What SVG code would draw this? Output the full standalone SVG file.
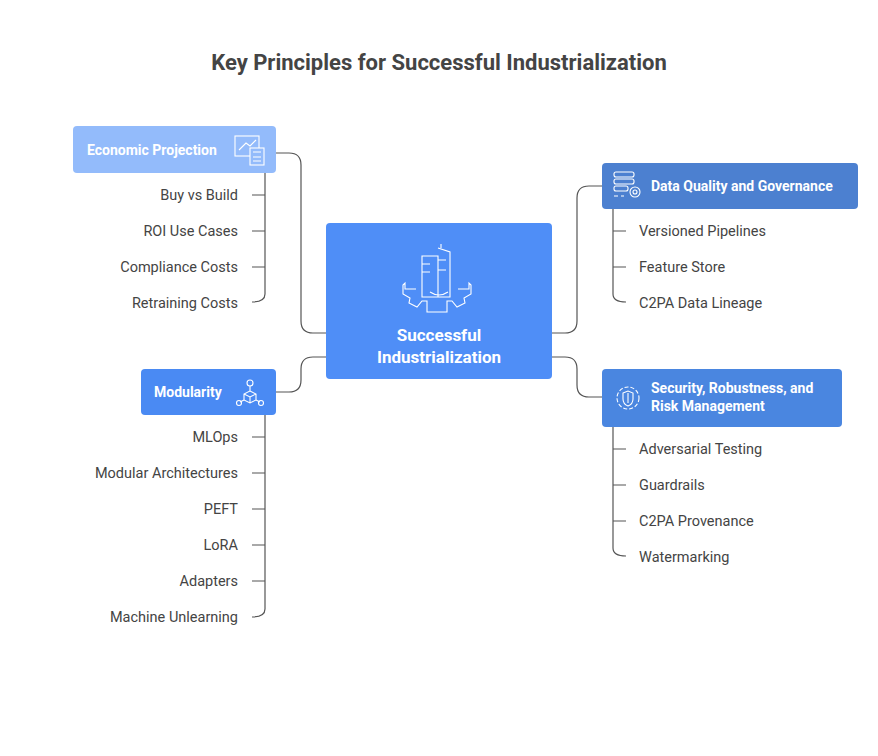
<svg xmlns="http://www.w3.org/2000/svg" width="878" height="756" viewBox="0 0 878 756">
<style>
.t{font-family:Roboto,"Liberation Sans",sans-serif;font-size:14.5px;fill:#444}
.h{font-family:Roboto,"Liberation Sans",sans-serif;font-size:14px;font-weight:bold;fill:#fff}
.c{fill:none;stroke:#555;stroke-width:1.2}
.i{fill:none;stroke:#fff;stroke-width:1.1}
</style>
<rect width="878" height="756" fill="#fff"/>
<text x="439" y="70" text-anchor="middle" style="font-family:Roboto,'Liberation Sans',sans-serif;font-size:22px;font-weight:bold;fill:#444">Key Principles for Successful Industrialization</text>
<g id="connectors">
<path class="c" d="M326 333H313Q301 333 301 321V165Q301 153 289 153H276"/>
<path class="c" d="M326 357H313Q301 357 301 369V380Q301 392 289 392H276"/>
<path class="c" d="M552 333H565Q577 333 577 321V198Q577 186 589 186H602"/>
<path class="c" d="M552 357H565Q577 357 577 369V385Q577 397 589 397H602"/>
<path class="c" d="M265 173V294Q265 302 252 302M252 195H265M252 231H265M252 267H265"/>
<path class="c" d="M265 415V609Q265 617 252 617M252 437H265M252 473H265M252 509H265M252 545H265M252 581H265"/>
<path class="c" d="M613 209V294Q613 302 626 302M613 231H626M613 267H626"/>
<path class="c" d="M613 427V548Q613 556 626 556M613 449H626M613 485H626M613 521H626"/>
</g>
<g id="center">
<rect x="326" y="223" width="226" height="156" rx="4" fill="#4f8ef7"/>
<g class="i">
<path d="M422 297V256H438V297ZM438 248L450 252V297H438M441 248V244M422 264H430M422 272H430M438 260H446M438 270H446"/>
<path d="M416 289H405V283L403 285V294L410 298L409 303L417 307L422 301H427V312H447V301H452L457 307L465 303L464 298L471 294V285L469 283V289H458"/>
<path d="M430 292Q439 298 448 292"/>
</g>
<text x="439" y="341" text-anchor="middle" class="h" style="font-size:17px">Successful</text>
<text x="439" y="363" text-anchor="middle" class="h" style="font-size:17px">Industrialization</text>
</g>
<g id="economic">
<rect x="73" y="126" width="203" height="47" rx="4" fill="#93bbfb"/>
<text x="87" y="155" class="h">Economic Projection</text>
<g class="i"><rect x="235" y="136" width="24" height="20"/><path d="M239 150L246 143L250 146L256 140"/><rect x="250" y="148" width="14" height="17" fill="#93bbfb"/><path d="M253 152H261M253 157H261M253 161H261"/></g>
</g>
<g id="modularity">
<rect x="141" y="369" width="135" height="46" rx="4" fill="#4a8af3"/>
<text x="154" y="397" class="h">Modularity</text>
<g class="i"><circle cx="250" cy="383" r="3"/><path d="M250 386V391L244 394V400L250 403L256 400V394L250 391M244 394L250 397L256 394M250 397V403M244 400L240 402M256 400L260 402"/><circle cx="239" cy="403" r="2.5"/><circle cx="261" cy="403" r="2.5"/></g>
</g>
<g id="dataquality">
<rect x="602" y="163" width="256" height="46" rx="4" fill="#4c80d0"/>
<text x="651" y="191" class="h">Data Quality and Governance</text>
<g class="i"><rect x="614" y="172" width="20" height="5" rx="2"/><rect x="614" y="179" width="20" height="5" rx="2"/><rect x="614" y="186" width="14" height="5" rx="2"/><path d="M614 196H618M621 196H624"/><circle cx="635" cy="192" r="5"/><circle cx="635" cy="192" r="2"/></g>
</g>
<g id="security">
<rect x="602" y="369" width="240" height="58" rx="4" fill="#4a86e0"/>
<text x="651" y="393" class="h">Security, Robustness, and</text>
<text x="651" y="411" class="h">Risk Management</text>
<g class="i"><circle cx="628" cy="398" r="11" stroke-dasharray="4 2"/><path d="M623 393L628 391L633 393V399Q633 404 628 406Q623 404 623 399Z"/><path d="M628 393V403"/></g>
</g>
<g id="items">
<text x="238" y="200" text-anchor="end" class="t">Buy vs Build</text>
<text x="238" y="236" text-anchor="end" class="t">ROI Use Cases</text>
<text x="238" y="272" text-anchor="end" class="t">Compliance Costs</text>
<text x="238" y="308" text-anchor="end" class="t">Retraining Costs</text>
<text x="238" y="442" text-anchor="end" class="t">MLOps</text>
<text x="238" y="478" text-anchor="end" class="t">Modular Architectures</text>
<text x="238" y="514" text-anchor="end" class="t">PEFT</text>
<text x="238" y="550" text-anchor="end" class="t">LoRA</text>
<text x="238" y="586" text-anchor="end" class="t">Adapters</text>
<text x="238" y="622" text-anchor="end" class="t">Machine Unlearning</text>
<text x="639" y="236" class="t">Versioned Pipelines</text>
<text x="639" y="272" class="t">Feature Store</text>
<text x="639" y="308" class="t">C2PA Data Lineage</text>
<text x="639" y="454" class="t">Adversarial Testing</text>
<text x="639" y="490" class="t">Guardrails</text>
<text x="639" y="526" class="t">C2PA Provenance</text>
<text x="639" y="562" class="t">Watermarking</text>
</g>
</svg>
